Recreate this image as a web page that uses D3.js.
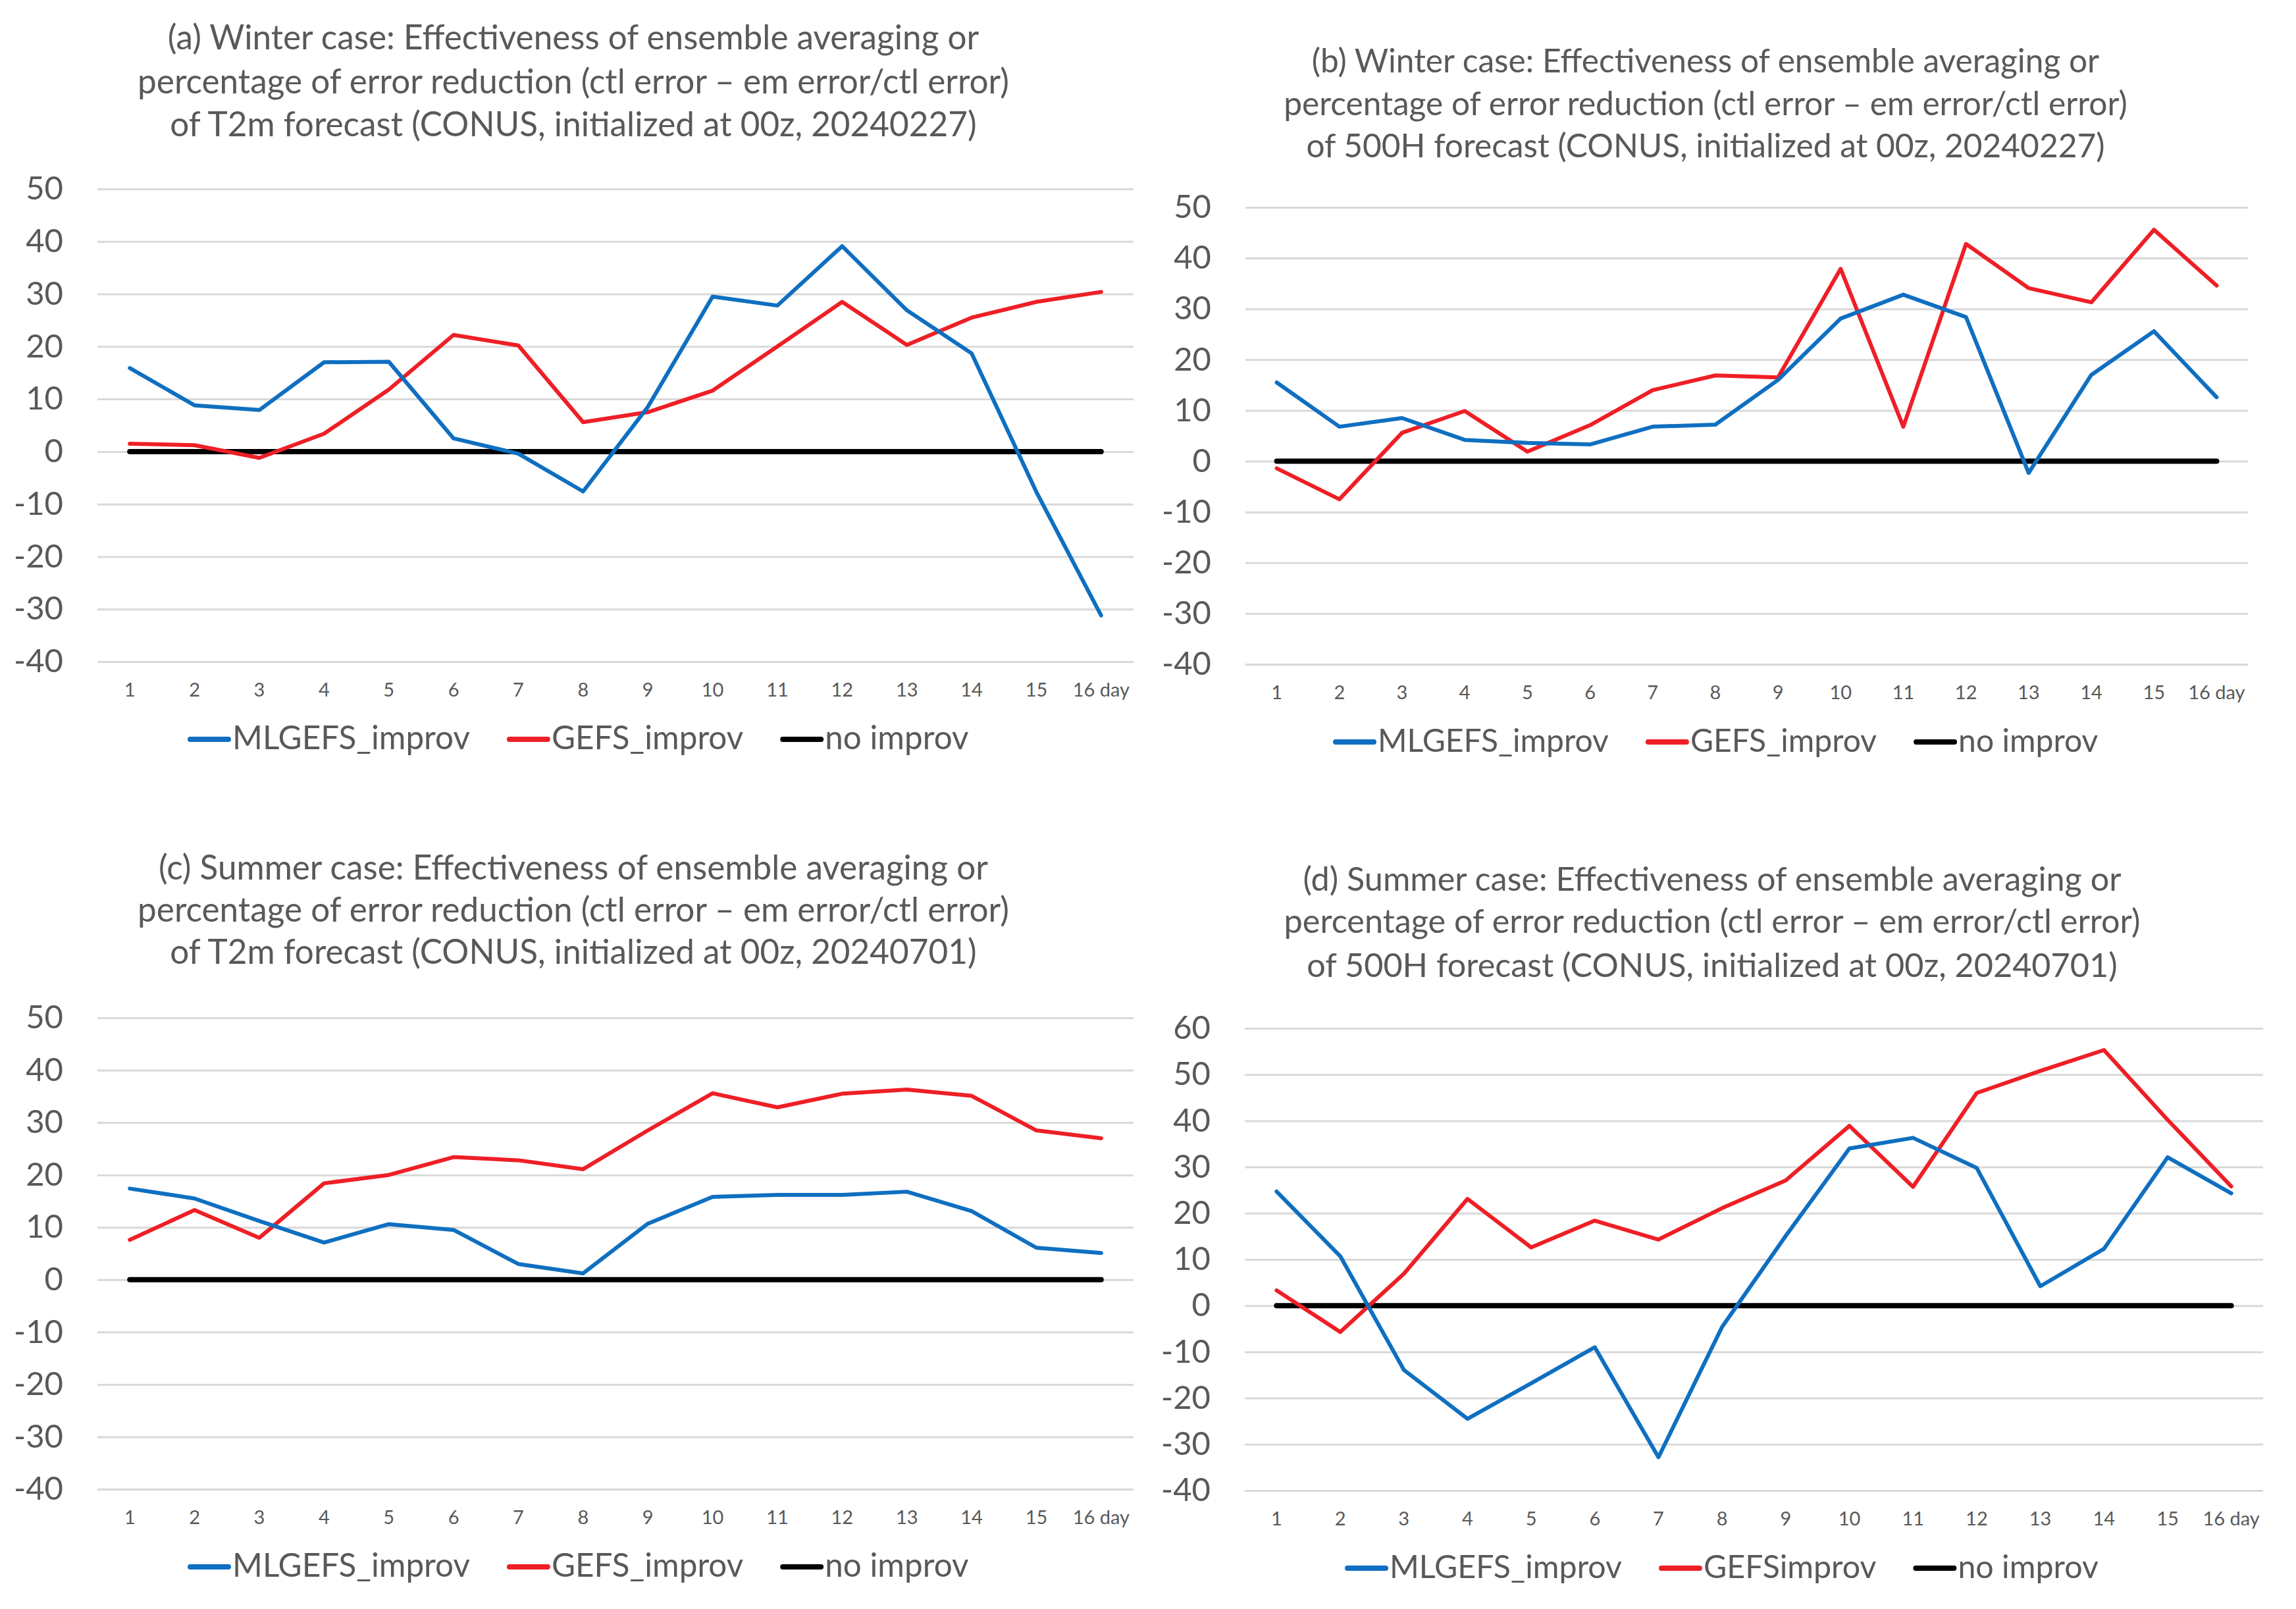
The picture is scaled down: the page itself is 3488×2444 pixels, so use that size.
<!DOCTYPE html>
<html>
<head>
<meta charset="utf-8">
<script src="https://cdn.jsdelivr.net/npm/d3@7/dist/d3.min.js"></script>
<style>
  body { margin: 0; background: #fff; }
  text { font-family: Lato, "Open Sans", sans-serif; fill: #595959; }
</style>
</head>
<body>
<div id="chart"></div>
<script>
// categories / ticks
const dayLabels = ["1", "2", "3", "4", "5", "6", "7", "8", "9", "10", "11", "12", "13", "14", "15", "16 day"];
const ticks50 = [50, 40, 30, 20, 10, 0, -10, -20, -30, -40];
const ticks60 = [60, 50, 40, 30, 20, 10, 0, -10, -20, -30, -40];

// (a) winter T2m
const mlT2mWinter   = [15.9, 8.8, 7.9, 17.0, 17.1, 2.5, -0.4, -7.6, 8.5, 29.5, 27.8, 39.1, 26.9, 18.7, -7.7, -31.2];
const gefsT2mWinter = [1.5, 1.2, -1.2, 3.4, 11.8, 22.2, 20.2, 5.6, 7.5, 11.6, 20.0, 28.5, 20.3, 25.5, 28.5, 30.4];
// (b) winter 500H
const ml500Winter   = [15.5, 6.8, 8.5, 4.2, 3.6, 3.3, 6.8, 7.2, 16.0, 28.1, 32.8, 28.4, -2.3, 17.0, 25.6, 12.6];
const gefs500Winter = [-1.4, -7.5, 5.6, 9.9, 1.9, 7.1, 14.0, 16.9, 16.5, 37.9, 6.8, 42.8, 34.1, 31.3, 45.6, 34.6];
// (c) summer T2m
const mlT2mSummer   = [17.4, 15.5, 11.2, 7.1, 10.6, 9.5, 3.0, 1.2, 10.7, 15.8, 16.2, 16.2, 16.8, 13.1, 6.1, 5.1];
const gefsT2mSummer = [7.6, 13.3, 8.0, 18.4, 20.0, 23.4, 22.8, 21.1, 28.5, 35.6, 32.9, 35.5, 36.3, 35.1, 28.5, 27.0];
// (d) summer 500H
const ml500Summer   = [24.7, 10.7, -13.9, -24.5, -16.8, -9.0, -32.8, -4.6, 15.1, 34.0, 36.3, 29.8, 4.2, 12.3, 32.1, 24.3];
const gefs500Summer = [3.3, -5.7, 6.9, 23.1, 12.6, 18.4, 14.3, 21.1, 27.1, 38.9, 25.7, 46.0, 50.8, 55.3, 40.2, 25.8];
// reference line
const noImprov = [0, 0, 0, 0, 0, 0, 0, 0, 0, 0, 0, 0, 0, 0, 0, 0];

const legendNames  = ["MLGEFS_improv", "GEFS_improv", "no improv"];
const legendNamesD = ["MLGEFS_improv", "GEFSimprov", "no improv"];

const titleA = ["(a) Winter case: Effectiveness of ensemble averaging or",
  "percentage of error reduction (ctl error \u2013 em error/ctl error)",
  "of T2m forecast (CONUS, initialized at 00z, 20240227)"];
const titleB = ["(b) Winter case: Effectiveness of ensemble averaging or",
  "percentage of error reduction (ctl error \u2013 em error/ctl error)",
  "of 500H forecast (CONUS, initialized at 00z, 20240227)"];
const titleC = ["(c) Summer case: Effectiveness of ensemble averaging or",
  "percentage of error reduction (ctl error \u2013 em error/ctl error)",
  "of T2m forecast (CONUS, initialized at 00z, 20240701)"];
const titleD = ["(d) Summer case: Effectiveness of ensemble averaging or",
  "percentage of error reduction (ctl error \u2013 em error/ctl error)",
  "of 500H forecast (CONUS, initialized at 00z, 20240701)"];

const colors = ["#0f6fc0", "#ee1f26", "#000000"];
const widths = [6, 6, 8];

const W = 3488, H = 2444;
const svg = d3.select("#chart").append("svg")
  .attr("width", W)
  .attr("height", H);

// layout of each panel, in page pixels
const panels = [
  { title: titleA, tx: 871, ty: [75, 142, 207], tw: 1324,
    left: 148, right: 1722, top: 287, bottom: 1005, ticks: ticks50,
    series: [mlT2mWinter, gefsT2mWinter, noImprov], names: legendNames, lx: 289, lw: 361 },
  { title: titleB, tx: 2591, ty: [110, 175, 239], tw: 1282,
    left: 1892, right: 3415, top: 315, bottom: 1009, ticks: ticks50,
    series: [ml500Winter, gefs500Winter, noImprov], names: legendNames, lx: 2029, lw: 351 },
  { title: titleC, tx: 871, ty: [1336, 1400, 1464], tw: 1324,
    left: 148, right: 1722, top: 1546, bottom: 2262, ticks: ticks50,
    series: [mlT2mSummer, gefsT2mSummer, noImprov], names: legendNames, lx: 289, lw: 361 },
  { title: titleD, tx: 2601, ty: [1353, 1417, 1484], tw: 1301,
    left: 1891, right: 3438, top: 1562, bottom: 2264, ticks: ticks60,
    series: [ml500Summer, gefs500Summer, noImprov], names: legendNamesD, lx: 2047, lw: 353 }
];

// font size that makes a string reach a given width
function fitSize(str, target) {
  const t = svg.append("text").attr("font-size", 50).text(str);
  const len = t.node().getComputedTextLength();
  t.remove();
  return 50 * target / len;
}

panels.forEach(p => {
  const g = svg.append("g");

  // title
  const fs = fitSize(p.title[1], p.tw);
  g.selectAll(".title").data(p.title).enter().append("text")
    .attr("class", "title")
    .attr("x", p.tx)
    .attr("y", (d, i) => p.ty[i])
    .attr("text-anchor", "middle")
    .attr("font-size", fs)
    .text(d => d);

  const x = d3.scaleBand().domain(dayLabels).range([p.left, p.right]);
  const y = d3.scaleLinear()
    .domain([d3.min(p.ticks), d3.max(p.ticks)])
    .range([p.bottom, p.top]);

  // y axis with gridlines (plain hyphen for negatives, as in the original)
  const ya = g.append("g")
    .attr("transform", "translate(" + p.left + ",0)")
    .call(d3.axisLeft(y).tickValues(p.ticks).tickSize(-(p.right - p.left)).tickPadding(52)
      .tickFormat(d => String(d)));
  ya.select(".domain").remove();
  ya.selectAll("line").attr("stroke", "#d9d9d9").attr("stroke-width", 3);
  ya.selectAll("text").attr("font-size", 49).attr("fill", "#595959")
    .attr("font-family", "Lato, 'Open Sans', sans-serif");

  // x axis labels
  const xa = g.append("g")
    .attr("transform", "translate(0," + p.bottom + ")")
    .call(d3.axisBottom(x).tickSize(0));
  xa.select(".domain").remove();
  xa.selectAll("text").attr("font-size", 29).attr("fill", "#595959")
    .attr("font-family", "Lato, 'Open Sans', sans-serif")
    .attr("y", 53).attr("dy", 0);

  // lines: draw the reference line first, then red, then blue
  const line = d3.line()
    .x((d, i) => x(dayLabels[i]) + x.bandwidth() / 2)
    .y(d => y(d));
  [2, 1, 0].forEach(k => {
    g.append("path")
      .datum(p.series[k])
      .attr("fill", "none")
      .attr("stroke", colors[k])
      .attr("stroke-width", widths[k])
      .attr("stroke-linejoin", "round")
      .attr("stroke-linecap", "round")
      .attr("d", line);
  });

  // legend
  const lfs = fitSize(p.names[0], p.lw);
  const ly = p.bottom + 118;
  let cx = p.lx;
  p.names.forEach((name, k) => {
    g.append("line")
      .attr("x1", cx).attr("x2", cx + 58)
      .attr("y1", ly).attr("y2", ly)
      .attr("stroke", colors[k])
      .attr("stroke-width", 8)
      .attr("stroke-linecap", "round");
    const t = g.append("text")
      .attr("x", cx + 64)
      .attr("y", ly + 15)
      .attr("font-size", lfs)
      .text(name);
    cx += 64 + t.node().getComputedTextLength() + 60;
  });
});
</script>
</body>
</html>
